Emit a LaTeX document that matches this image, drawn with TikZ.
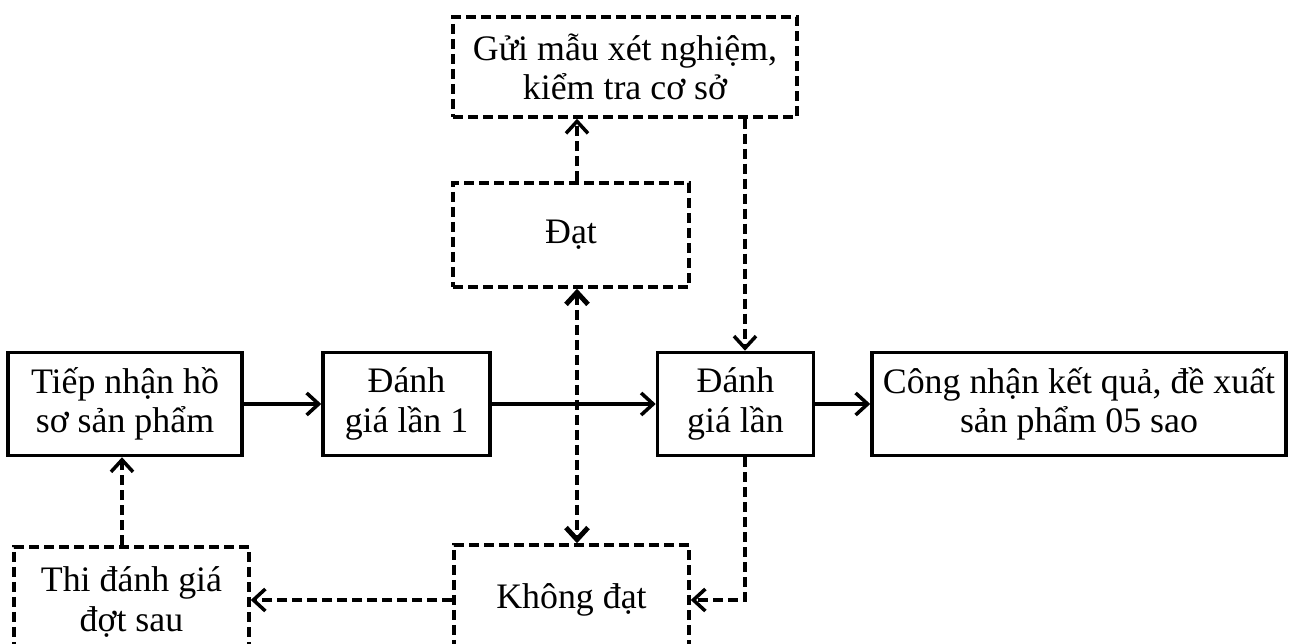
\documentclass[tikz,border=0pt]{standalone}
\usepackage{fontspec}
\setmainfont{Liberation Serif}
\usetikzlibrary{arrows.meta}
\begin{document}
\begin{tikzpicture}[>={Straight Barb[length=0.24cm,width=0.44cm]},
  font=\fontsize{20.4}{22.5}\selectfont]
        \useasboundingbox (0,0) rectangle (25.88,12.88);
        \clip (0,0) rectangle (25.88,12.88);

        \begin{scope}[every node/.style={rectangle,draw,line width=2pt,align=center,inner sep=0pt,minimum height=2.06cm}]
          \node[minimum width=4.68cm] (tiep) at (2.5,4.8)   {Tiếp nhận hồ\\sơ sản phẩm};
          \node[minimum width=3.34cm] (dg1)  at (8.13,4.8)  {Đánh\\giá lần 1};
          \node[minimum width=3.12cm] (dg2)  at (14.71,4.8) {Đánh\\giá lần};
          \node[minimum width=8.28cm] (cong) at (21.58,4.8) {Công nhận kết quả, đề xuất\\sản phẩm 05 sao};
        \end{scope}

        \begin{scope}[every node/.style={rectangle,draw,line width=2pt,dash pattern=on 0.2cm off 0.1cm,align=center,inner sep=0pt}]
          \node[minimum width=6.88cm,minimum height=2cm]   (gui)   at (12.5,11.54) {Gửi mẫu xét nghiệm,\\kiểm tra cơ sở};
          \node[minimum width=4.72cm,minimum height=2.08cm] (dat)   at (11.42,8.18) {Đạt};
          \node[minimum width=4.7cm,minimum height=2.2cm]   (khong) at (11.43,0.88) {Không đạt};
          \node[minimum width=4.7cm,minimum height=2.2cm]   (thi)   at (2.63,0.84)  {Thi đánh giá\\đợt sau};
        \end{scope}

        \begin{scope}[every edge/.style={draw,->,line width=2pt}]
          \path (tiep) edge (dg1);
          \path (dg1)  edge (dg2);
          \path (dg2)  edge (cong);
        \end{scope}

        \begin{scope}[line width=2pt,dash pattern=on 0.2cm off 0.1cm]
          \draw[->] ([xshift=0.12cm]dat.north) -- ([xshift=0.12cm]dat.north |- gui.south);
          \draw[->] ([xshift=0.19cm]dg2.north |- gui.south) -- ([xshift=0.19cm]dg2.north);
          \draw[->] ([xshift=0.19cm]dg2.south) |- (khong.east);
          \draw[->] (khong.west) -- (khong.west -| thi.east);
          \draw[->] ([xshift=-0.06cm]tiep.south |- thi.north) -- ([xshift=-0.06cm]tiep.south);
          \draw[<->,line width=2.8pt] ([xshift=0.12cm]dat.south) -- ([xshift=0.12cm]dat.south |- khong.north);
        \end{scope}

      \end{tikzpicture}
\end{document}
